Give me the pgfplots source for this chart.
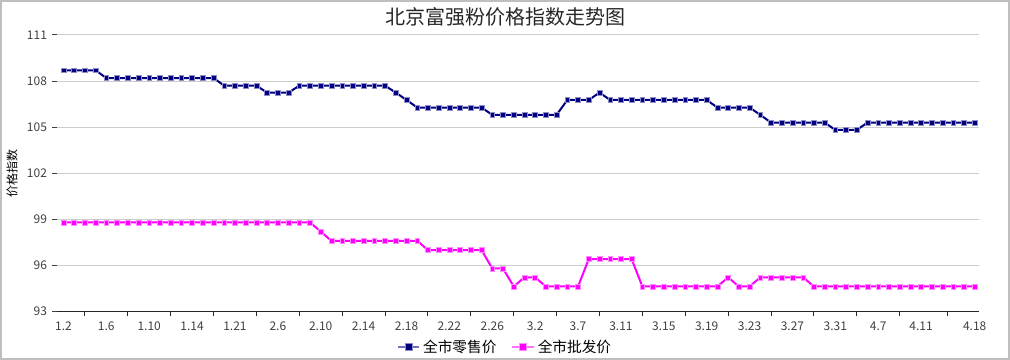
\documentclass[border=0pt]{standalone}
\usepackage{pgfplots}
\pgfplotsset{compat=1.18}
\usepackage{pgfplotstable}
\usepackage{fontspec}
\setmainfont{Noto Sans CJK SC}
\definecolor{retail}{HTML}{000080}
\definecolor{whole}{HTML}{FF00FF}
\definecolor{gridc}{HTML}{CCCCCC}
\definecolor{txt}{HTML}{404040}
\definecolor{framec}{HTML}{BFBFBF}

\pgfplotstableread{
k retail whole
0 108.7 98.8
1 108.7 98.8
2 108.7 98.8
3 108.7 98.8
4 108.2 98.8
5 108.2 98.8
6 108.2 98.8
7 108.2 98.8
8 108.2 98.8
9 108.2 98.8
10 108.2 98.8
11 108.2 98.8
12 108.2 98.8
13 108.2 98.8
14 108.2 98.8
15 107.7 98.8
16 107.7 98.8
17 107.7 98.8
18 107.7 98.8
19 107.25 98.8
20 107.25 98.8
21 107.25 98.8
22 107.7 98.8
23 107.7 98.8
24 107.7 98.2
25 107.7 97.6
26 107.7 97.6
27 107.7 97.6
28 107.7 97.6
29 107.7 97.6
30 107.7 97.6
31 107.25 97.6
32 106.77 97.6
33 106.28 97.6
34 106.28 97.0
35 106.28 97.0
36 106.28 97.0
37 106.28 97.0
38 106.28 97.0
39 106.28 97.0
40 105.8 95.8
41 105.8 95.8
42 105.8 94.63
43 105.8 95.22
44 105.8 95.22
45 105.8 94.63
46 105.8 94.63
47 106.77 94.63
48 106.77 94.63
49 106.77 96.41
50 107.25 96.41
51 106.77 96.41
52 106.77 96.41
53 106.77 96.41
54 106.77 94.63
55 106.77 94.63
56 106.77 94.63
57 106.77 94.63
58 106.77 94.63
59 106.77 94.63
60 106.77 94.63
61 106.28 94.63
62 106.28 95.22
63 106.28 94.63
64 106.28 94.63
65 105.8 95.22
66 105.3 95.22
67 105.3 95.22
68 105.3 95.22
69 105.3 95.22
70 105.3 94.63
71 105.3 94.63
72 104.82 94.63
73 104.82 94.63
74 104.82 94.63
75 105.3 94.63
76 105.3 94.63
77 105.3 94.63
78 105.3 94.63
79 105.3 94.63
80 105.3 94.63
81 105.3 94.63
82 105.3 94.63
83 105.3 94.63
84 105.3 94.63
85 105.3 94.63
}\datatable

\begin{document}
\begin{tikzpicture}
\useasboundingbox (0,0) rectangle (757.5pt,270pt);
\draw[framec, line width=1.5pt] (0.75pt,0.75pt) rectangle (756.75pt,269.25pt);
\node[font=\fontsize{15}{17}\selectfont, text=black!85] at (378.75pt,257.6pt) {北京富强粉价格指数走势图};
\node[font=\fontsize{9}{10}\selectfont, text=black, rotate=90] at (9pt,139.5pt) {价格指数};
\begin{axis}[
  at={(42.75pt,36.375pt)}, anchor=south west,
  width=691.5pt, height=207.375pt, scale only axis,
  xmin=-0.6, xmax=85.4, ymin=93, ymax=111,
  axis x line*=bottom, axis y line*=left,
  x axis line style={black!85, line width=0.9pt, -},
  y axis line style={draw=none},
  ytick={93,96,99,102,105,108,111},
  xtick={0,4,8,12,16,20,24,28,32,36,40,44,48,52,56,60,64,68,72,76,80,85},
  xticklabels={1.2,1.6,1.10,1.14,1.21,2.6,2.10,2.14,2.18,2.22,2.26,3.2,3.7,3.11,3.15,3.19,3.23,3.27,3.31,4.7,4.11,4.18},
  minor xtick={2,6,10,14,18,22,26,30,34,38,42,46,50,54,58,62,66,70,74,78,82.5},
  major x tick style={draw=none},
  minor x tick style={black!85, line width=0.75pt},
  minor tick length=3.5pt,
  y tick style={black!75, line width=0.75pt},
  major tick length=3.5pt,
  tick align=outside,
  ymajorgrids, grid style={gridc, line width=0.75pt},
  /pgf/number format/assume math mode=true,
  tick label style={font=\fontsize{9}{10}\selectfont, text=txt},
  yticklabel style={xshift=-0.5pt},
  xticklabel style={yshift=-1pt},
  clip=false,
  legend style={at={(0.486,-0.128)}, anchor=center, draw=none, fill=none,
    legend columns=2, font=\fontsize{11}{12}\selectfont,
    /tikz/every even column/.append style={column sep=9pt}},
  legend image code/.code={
    \draw[#1, opacity=0.55, mark=none, line width=2pt] (0pt,0pt) -- (16pt,0pt);
    \draw[#1, mark size=2.6pt] plot coordinates {(8pt,0pt)};
  },
]
\addplot[color=retail, line width=1.5pt, mark=square*, mark size=1.8pt,
  mark options={solid, fill=retail, draw=retail!45, line width=0.4pt}]
  table[x=k, y=retail] {\datatable};
\addlegendentry{全市零售价}
\addplot[color=whole, line width=1.5pt, mark=square*, mark size=1.8pt,
  mark options={solid, fill=whole, draw=whole!45, line width=0.4pt}]
  table[x=k, y=whole] {\datatable};
\addlegendentry{全市批发价}
\end{axis}
\end{tikzpicture}
\end{document}
